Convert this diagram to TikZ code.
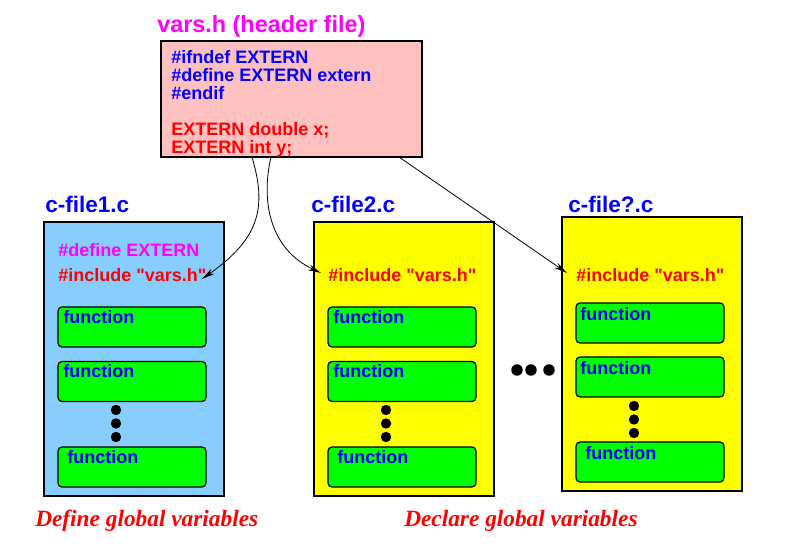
\documentclass[tikz,border=0pt]{standalone}
\usepackage{fontspec}
\newfontfamily\hv{Liberation Sans}
\newfontfamily\tm{Liberation Serif}
\usetikzlibrary{arrows.meta}
\definecolor{pinkfill}{RGB}{255,192,192}
\definecolor{ltblue}{RGB}{135,206,255}
\definecolor{yel}{RGB}{255,255,0}
\definecolor{fgreen}{RGB}{0,255,0}
\definecolor{fblue}{RGB}{0,0,255}
\definecolor{fmag}{RGB}{255,0,255}
\definecolor{fred}{RGB}{255,0,0}
\begin{document}
\begin{tikzpicture}[x=0.75pt,y=-0.75pt,
  filebox/.style={draw=black, line width=1pt, inner sep=0pt, minimum width=135pt, minimum height=205.5pt},
  funbox/.style={draw=black, fill=fgreen, line width=0.9pt, rounded corners=3pt, inner sep=0pt, minimum width=111pt, minimum height=30pt},
  codetxt/.style={anchor=base west, inner sep=0pt, font=\hv\bfseries\fontsize{13.5}{13.5}\selectfont},
  titletxt/.style={anchor=base west, inner sep=0pt, text=fblue, font=\hv\bfseries\fontsize{16.9}{17}\selectfont},
  captxt/.style={anchor=base west, inner sep=0pt, text=fred, font=\tm\bfseries\itshape\fontsize{17.5}{18}\selectfont},
  arr/.style={-{Stealth[length=10pt,width=4.5pt]}, line width=0.6pt},
  bigdot/.style={fill=black}
]
\useasboundingbox (0,0) rectangle (786,548);

% header
\node[titletxt, text=fmag, font=\hv\bfseries\fontsize{17.55}{18}\selectfont] (htitle) at (157,33) {vars.h (header file)};
\node[draw=black, fill=pinkfill, line width=1pt, inner sep=0pt, minimum width=195.75pt, minimum height=87pt] (hdr) at (291.5,99) {};
\node[codetxt, text=fblue] (h1) at (171,64) {\#ifndef EXTERN};
\node[codetxt, text=fblue] (h2) at (171,82) {\#define EXTERN extern};
\node[codetxt, text=fblue] (h3) at (171,100) {\#endif};
\node[codetxt, text=fred] (h4) at (171,136) {EXTERN double x;};
\node[codetxt, text=fred] (h5) at (171,154) {EXTERN int y;};

% file 1
\node[titletxt] (t1) at (45,213) {c-file1.c};
\node[filebox, fill=ltblue] (f1) at (134,359) {};
\node[codetxt, text=fmag] (d1) at (58,257) {\#define EXTERN};
\node[codetxt, text=fred] (i1) at (58,282) {\#include "vars.h"};
\node[funbox] (f1a) at (132,327) {};
\node[funbox] (f1b) at (132,381.5) {};
\node[funbox] (f1c) at (132,467) {};
\node[codetxt, text=fblue] at (63,324) {function};
\node[codetxt, text=fblue] at (63,378) {function};
\node[codetxt, text=fblue] at (67,464) {function};
\fill[bigdot] (116,410) circle[radius=3.9pt];
\fill[bigdot] (116,423.5) circle[radius=3.9pt];
\fill[bigdot] (116,437) circle[radius=3.9pt];

% file 2
\node[titletxt] (t2) at (311,213) {c-file2.c};
\node[filebox, fill=yel] (f2) at (404,359) {};
\node[codetxt, text=fred] (i2) at (328,282) {\#include "vars.h"};
\node[funbox] (f2a) at (402,327) {};
\node[funbox] (f2b) at (402,381.5) {};
\node[funbox] (f2c) at (402,467) {};
\node[codetxt, text=fblue] at (333,324) {function};
\node[codetxt, text=fblue] at (333,378) {function};
\node[codetxt, text=fblue] at (337,464) {function};
\fill[bigdot] (386,410) circle[radius=3.9pt];
\fill[bigdot] (386,423.5) circle[radius=3.9pt];
\fill[bigdot] (386,437) circle[radius=3.9pt];

% horizontal dots
\fill[bigdot] (517,370) circle[radius=4.3pt];
\fill[bigdot] (531,370) circle[radius=4.3pt];
\fill[bigdot] (549,370) circle[radius=4.3pt];

% file 3
\node[titletxt] (t3) at (568,213) {c-file?.c};
\node[filebox, fill=yel] (f3) at (652,354) {};
\node[codetxt, text=fred] (i3) at (576,282) {\#include "vars.h"};
\node[funbox] (f3a) at (650,323) {};
\node[funbox] (f3b) at (650,377) {};
\node[funbox] (f3c) at (650,462) {};
\node[codetxt, text=fblue] at (580,321) {function};
\node[codetxt, text=fblue] at (580,375) {function};
\node[codetxt, text=fblue] at (585,460) {function};
\fill[bigdot] (634,406) circle[radius=3.9pt];
\fill[bigdot] (634,419.5) circle[radius=3.9pt];
\fill[bigdot] (634,433) circle[radius=3.9pt];

% captions
\node[captxt] (c1) at (35,527) {Define global variables};
\node[captxt] (c2) at (404,527) {Declare global variables};

% connectors
\coordinate (s1) at (252,157);
\coordinate (s2) at (271,157);
\coordinate (s3) at (399,157);
\coordinate (e1) at (202,279);
\coordinate (e2) at (321,273);
\coordinate (e3) at (567,273);
\draw[arr] (s1) .. controls (266,205) and (262,237) .. (e1);
\draw[arr] (s2) .. controls (260,205) and (272,250) .. (e2);
\draw[arr] (s3) -- (e3);
\end{tikzpicture}
\end{document}
